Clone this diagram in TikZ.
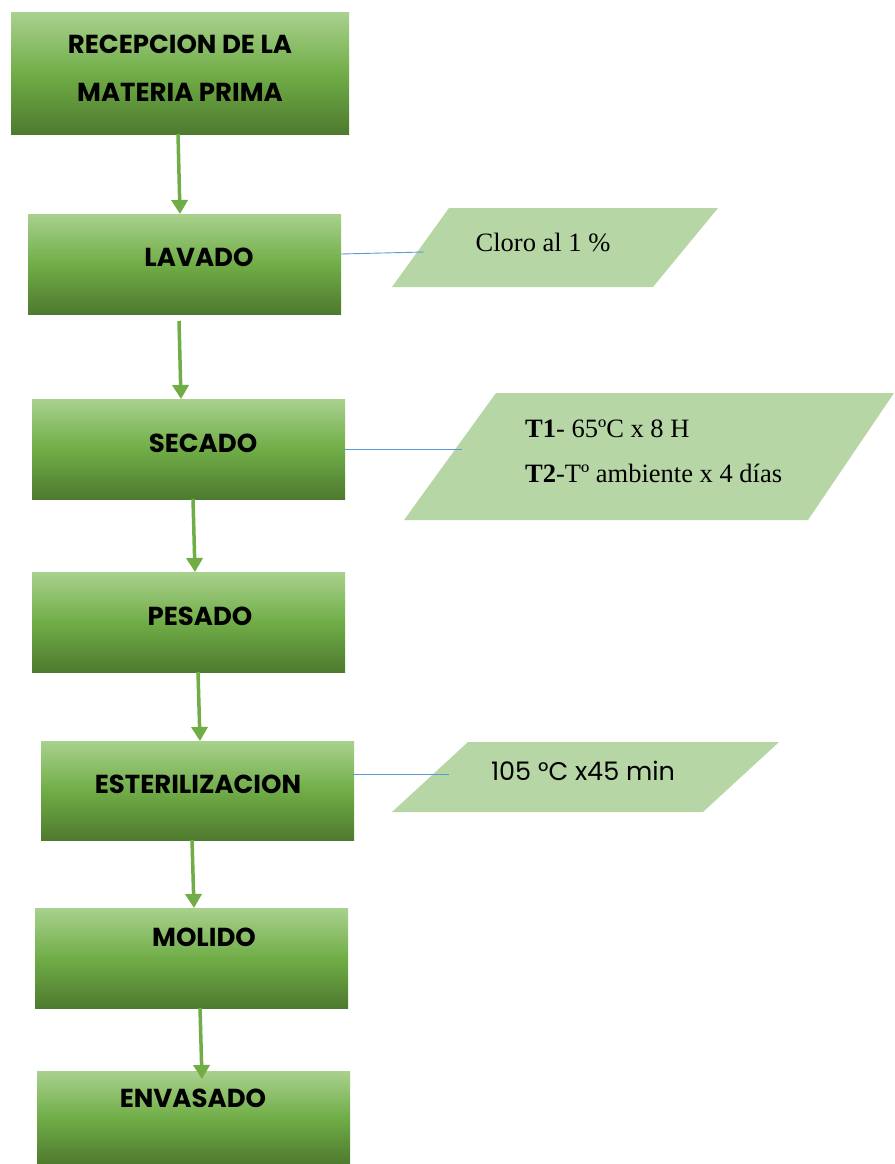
\documentclass[tikz,border=0pt]{standalone}
\usepackage{fontspec}
\setmainfont{Liberation Serif}
\newfontfamily\gothic{Poppins}
\usetikzlibrary{arrows.meta}
\definecolor{gtop}{HTML}{A9D18E}
\definecolor{gmid}{HTML}{70AD47}
\definecolor{gbot}{HTML}{4E7A2E}
\definecolor{pfill}{HTML}{B7D6A5}
\definecolor{linkblue}{HTML}{5B9BD5}
\definecolor{arrowgreen}{HTML}{70AD47}
\begin{document}
\begin{tikzpicture}[x=1pt,y=-1pt,
  stepbox/.style={rectangle, inner sep=0pt, outer sep=0pt, minimum width=313pt, minimum height=100pt, top color=gtop, bottom color=gbot, middle color=gmid},
  boxtext/.style={font=\gothic\bfseries\fontsize{26}{48}\selectfont, inner sep=0pt, anchor=center, align=center},
  flow/.style={draw=arrowgreen, line width=3.5pt, -{Triangle[width=16pt,length=14pt]}},
  link/.style={draw=linkblue, line width=0.9pt},
  pgram/.style={fill=pfill},
  note/.style={font=\fontsize{26.5}{30}\selectfont, inner sep=0pt, anchor=base west},
  gnote/.style={font=\gothic\fontsize{25.5}{30}\selectfont, inner sep=0pt, anchor=base west}
]
\useasboundingbox (0,0) rectangle (894,1164);
\fill[white] (0,0) rectangle (894,1164);

% process boxes
\node[stepbox, minimum width=338pt, minimum height=121pt] (b1) at (180,73.5) {};
\node[stepbox] (b2) at (184.5,264) {};
\node[stepbox] (b3) at (188.5,449) {};
\node[stepbox] (b4) at (188.5,622) {};
\node[stepbox, minimum height=99pt] (b5) at (197.5,790.5) {};
\node[stepbox] (b6) at (191.5,958) {};
\node[stepbox, minimum height=93pt] (b7) at (193.5,1117.5) {};

\node[boxtext] (t1) at (180,68) {RECEPCION DE LA\\MATERIA PRIMA};
\node[boxtext] (t2) at (199,257) {LAVADO};
\node[boxtext] (t3) at (203,443) {SECADO};
\node[boxtext] (t4) at (200,616) {PESADO};
\node[boxtext] (t5) at (198,784) {ESTERILIZACION};
\node[boxtext] (t6) at (204,937) {MOLIDO};
\node[boxtext] (t7) at (193,1098) {ENVASADO};

% flow arrows
\draw[flow] ([xshift=-2pt]b1.south) -- ([xshift=-4.5pt]b2.north);
\draw[flow] ([xshift=-5.5pt,yshift=-7pt]b2.south) -- ([xshift=-7.5pt]b3.north);
\draw[flow] ([xshift=4.5pt]b3.south) -- ([xshift=6.5pt]b4.north);
\draw[flow] ([xshift=9.5pt]b4.south) -- ([xshift=2.5pt]b5.north);
\draw[flow] ([xshift=-5.5pt]b5.south) -- ([xshift=2.5pt]b6.north);
\draw[flow] ([xshift=8.5pt]b6.south) -- ([xshift=8.5pt,yshift=-8pt]b7.north);

% input parallelograms
\fill[pgram] (449,208) -- (718,208) -- (653,287) -- (392,287) -- cycle;
\coordinate (c1) at (424,252);
\node[note, anchor=base] (n1) at (543,251) {Cloro al 1 \%};

\fill[pgram] (496,393) -- (894,393) -- (808,520) -- (404,520) -- cycle;
\coordinate (c2) at (462,449);
\node[note] (n2a) at (525,437) {\textbf{T1}- 65ºC x 8 H};
\node[note] (n2b) at (525,482) {\textbf{T2}-Tº ambiente x 4 días};

\fill[pgram] (468,742) -- (779,742) -- (703,812) -- (392,812) -- cycle;
\coordinate (c3) at (449,774);
\node[gnote, anchor=base] (n3) at (583,780) {105 °C x45 min};

% links
\draw[link] ([yshift=10pt]b2.east) -- (c1);
\draw[link] (b3.east) -- (c2);
\draw[link] ([xshift=-1pt,yshift=16.5pt]b5.east) -- (c3);
\end{tikzpicture}
\end{document}
